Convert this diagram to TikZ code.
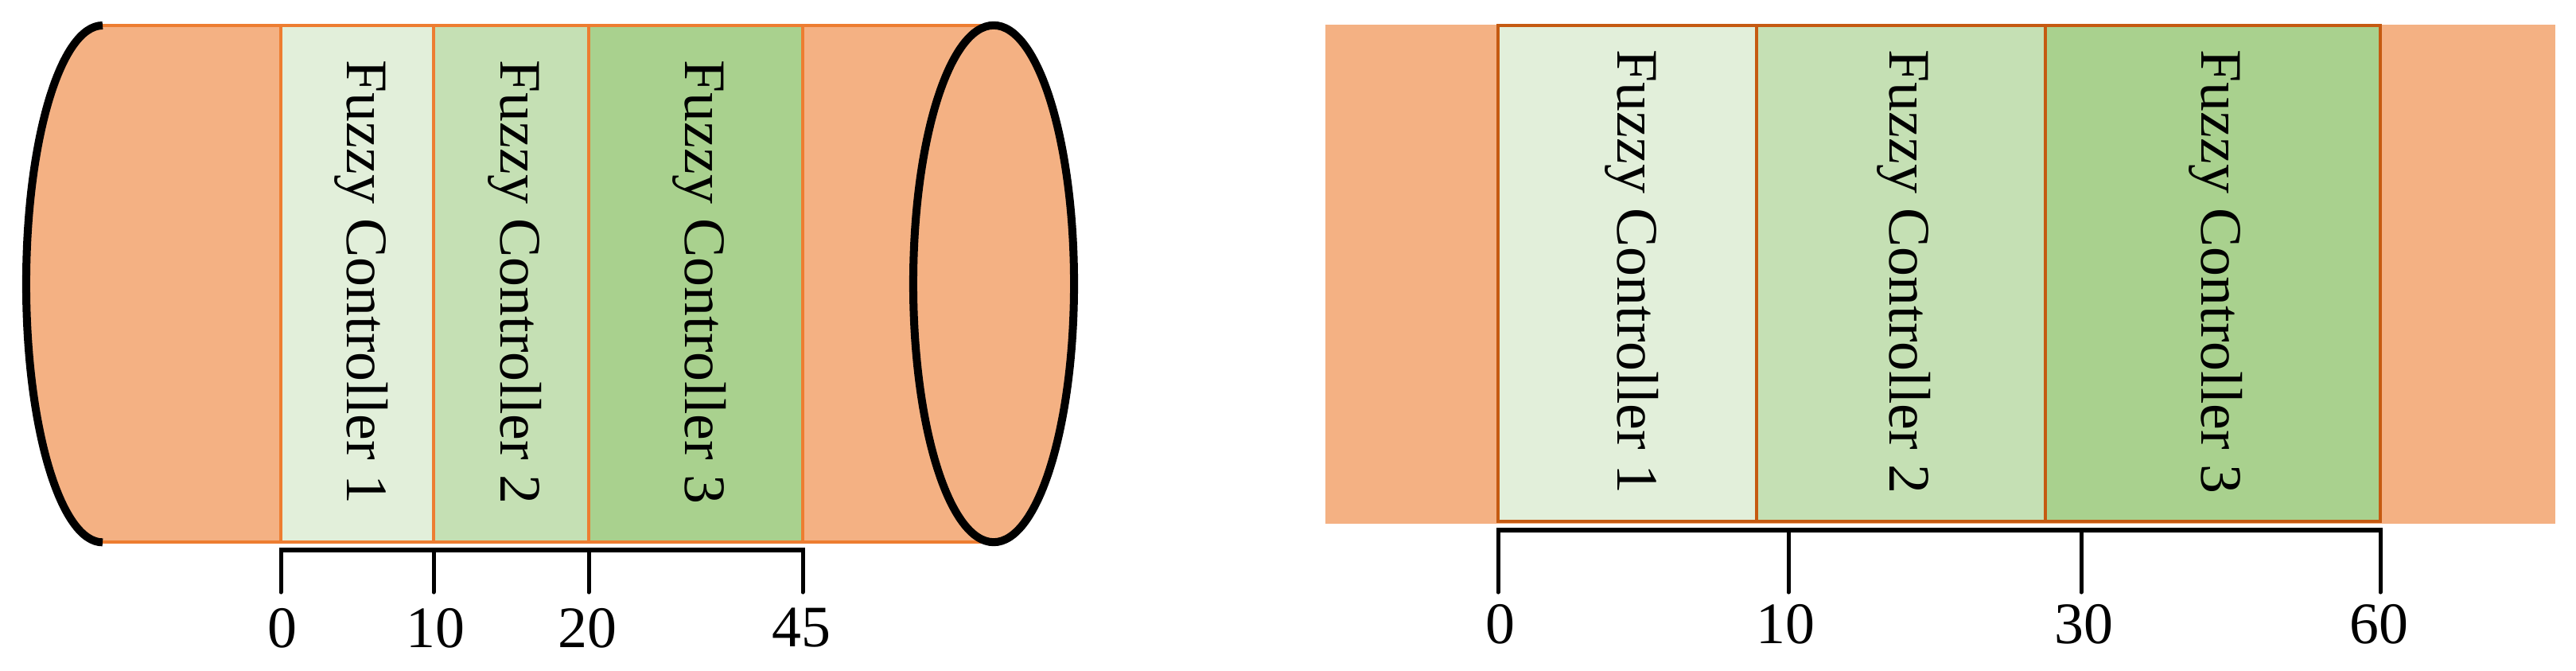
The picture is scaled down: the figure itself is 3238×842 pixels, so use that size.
\documentclass[tikz,border=0pt]{standalone}
\usepackage{fontspec}
\setmainfont{Liberation Serif}
\usetikzlibrary{shapes.geometric}
\definecolor{bodyfill}{HTML}{F4B183}
\definecolor{orline}{HTML}{ED7D31}
\definecolor{dkorline}{HTML}{C55A11}
\definecolor{gA}{HTML}{E2EFDA}
\definecolor{gB}{HTML}{C5E0B4}
\definecolor{gC}{HTML}{A9D18E}
\tikzset{
  fcbox/.style={rectangle, inner sep=0pt, outer sep=0pt, line width=0.04cm},
  fctext/.style={rotate=-90, anchor=west, inner sep=0pt, font=\fontsize{21}{25}\selectfont},
  numlbl/.style={inner sep=0pt, font=\fontsize{21}{25}\selectfont},
  rulerln/.style={line width=0.05cm, black, line cap=round, line join=miter},
  thickcap/.style={line width=0.1cm, black},
}
\begin{document}
\begin{tikzpicture}[x=0.01cm,y=0.01cm]
\useasboundingbox (0,0) rectangle (3238,842);

% ---------- left figure: cylinder ----------
\fill[bodyfill] (1249,810) -- (129,810)
  arc[start angle=90, end angle=270, x radius=0.96cm, y radius=3.245cm]
  -- (1249,161) -- cycle;
\draw[orline, line width=0.04cm] (129,810) -- (1249,810);
\draw[orline, line width=0.04cm] (129,161) -- (1249,161);

\node[fcbox, draw=orline, fill=gA, minimum width=1.92cm, minimum height=6.49cm] (L1) at (449,485.5) {};
\node[fcbox, draw=orline, fill=gB, minimum width=1.95cm, minimum height=6.49cm] (L2) at (642.5,485.5) {};
\node[fcbox, draw=orline, fill=gC, minimum width=2.69cm, minimum height=6.49cm] (L3) at (874.5,485.5) {};

\node[fctext] (LT1) at (454,767) {Fuzzy Controller 1};
\node[fctext] (LT2) at (647,767) {Fuzzy Controller 2};
\node[fctext] (LT3) at (879,767) {Fuzzy Controller 3};

\node[ellipse, inner sep=0pt, minimum width=2.02cm, minimum height=6.49cm,
      fill=bodyfill, draw=black, line width=0.1cm] (E) at (1249,485.5) {};
\draw[thickcap] (129,810)
  arc[start angle=90, end angle=270, x radius=0.96cm, y radius=3.245cm];

% ruler left
\coordinate (la) at (353,151);
\coordinate (lb) at (545,151);
\coordinate (lc) at (740,151);
\coordinate (ld) at (1009,151);
\draw[rulerln] ([yshift=-0.53cm]la) -- (la) -- (ld) -- ([yshift=-0.53cm]ld);
\draw[rulerln] (lb) -- ([yshift=-0.53cm]lb);
\draw[rulerln] (lc) -- ([yshift=-0.53cm]lc);
\node[numlbl] (ln0) at (355,53) {0};
\node[numlbl] (ln1) at (547,53) {10};
\node[numlbl] (ln2) at (738,53) {20};
\node[numlbl] (ln3) at (1007,53) {45};

% ---------- right figure: flat band ----------
\fill[bodyfill] (1666,184) rectangle (3212,811);
\node[fcbox, draw=dkorline, fill=gA, minimum width=3.25cm, minimum height=6.23cm] (R1) at (2045.5,498.5) {};
\node[fcbox, draw=dkorline, fill=gB, minimum width=3.63cm, minimum height=6.23cm] (R2) at (2389.5,498.5) {};
\node[fcbox, draw=dkorline, fill=gC, minimum width=4.21cm, minimum height=6.23cm] (R3) at (2781.5,498.5) {};

\node[fctext] (RT1) at (2051,780) {Fuzzy Controller 1};
\node[fctext] (RT2) at (2393,780) {Fuzzy Controller 2};
\node[fctext] (RT3) at (2785,780) {Fuzzy Controller 3};

% ruler right
\coordinate (ra) at (1883,176);
\coordinate (rb) at (2248,176);
\coordinate (rc) at (2616,176);
\coordinate (rd) at (2992,176);
\draw[rulerln] ([yshift=-0.78cm]ra) -- (ra) -- (rd) -- ([yshift=-0.78cm]rd);
\draw[rulerln] (rb) -- ([yshift=-0.78cm]rb);
\draw[rulerln] (rc) -- ([yshift=-0.78cm]rc);
\node[numlbl] (rn0) at (1886,58) {0};
\node[numlbl] (rn1) at (2244,58) {10};
\node[numlbl] (rn2) at (2619,58) {30};
\node[numlbl] (rn3) at (2990,58) {60};
\end{tikzpicture}
\end{document}
